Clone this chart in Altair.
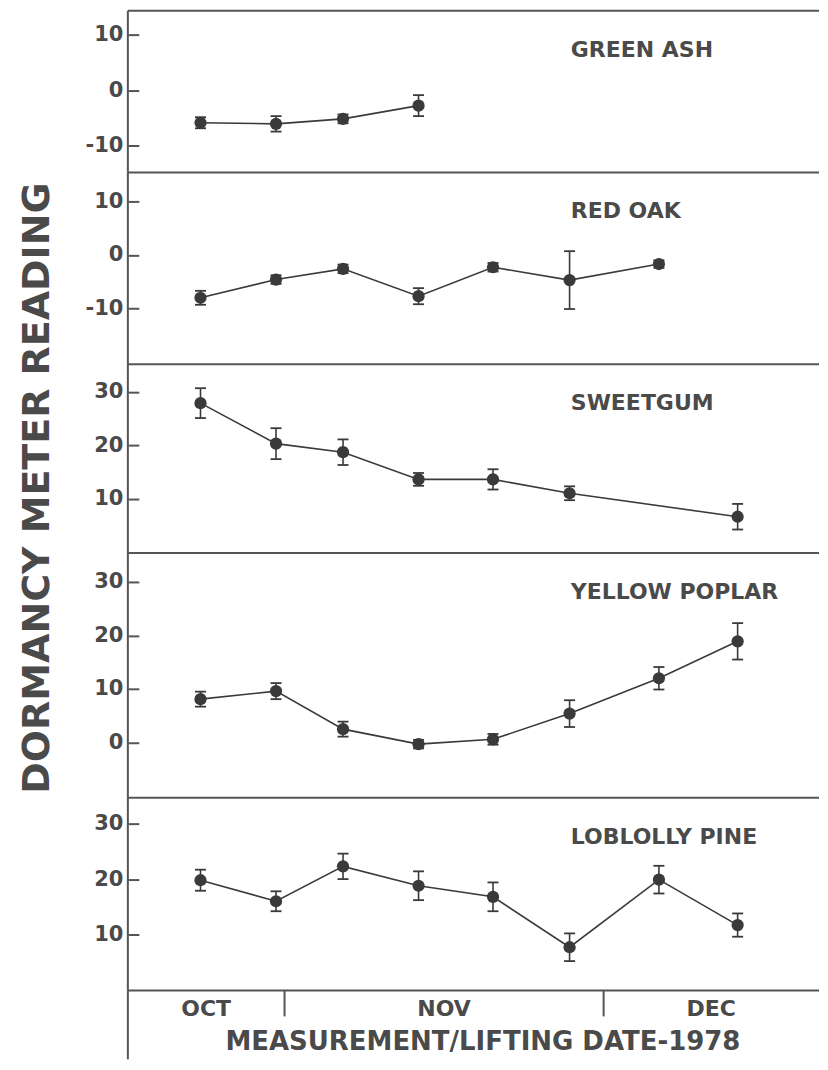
import altair as alt
import pandas as pd

days = [23.1, 30.2, 36.5, 43.6, 50.6, 57.8, 66.2, 73.6]

species = ["GREEN ASH", "RED OAK", "SWEETGUM", "YELLOW POPLAR", "LOBLOLLY PINE"]

green_ash_idx = [0, 1, 2, 3]
green_ash_mean = [-5.9, -6.1, -5.2, -2.8]
green_ash_err = [1.0, 1.4, 0.8, 1.9]

red_oak_idx = [0, 1, 2, 3, 4, 5, 6]
red_oak_mean = [-8.0, -4.6, -2.6, -7.7, -2.3, -4.7, -1.7]
red_oak_err = [1.3, 0.8, 0.8, 1.5, 0.8, 5.4, 0.7]

sweetgum_idx = [0, 1, 2, 3, 4, 5, 7]
sweetgum_mean = [27.9, 20.3, 18.7, 13.6, 13.6, 11.0, 6.6]
sweetgum_err = [2.8, 2.9, 2.4, 1.2, 1.9, 1.3, 2.4]

yellow_poplar_idx = [0, 1, 2, 3, 4, 5, 6, 7]
yellow_poplar_mean = [8.1, 9.6, 2.5, -0.3, 0.6, 5.4, 12.0, 18.9]
yellow_poplar_err = [1.4, 1.5, 1.4, 0.8, 1.0, 2.5, 2.1, 3.4]

loblolly_idx = [0, 1, 2, 3, 4, 5, 6, 7]
loblolly_mean = [19.8, 16.0, 22.3, 18.8, 16.8, 7.7, 19.9, 11.7]
loblolly_err = [1.9, 1.8, 2.3, 2.6, 2.6, 2.5, 2.5, 2.1]

y_domains = [[-14.9, 14.4], [-20.4, 15.4], [-0.2, 35.2], [-10.3, 35.4], [-0.1, 34.7]]
y_ticks = [[-10, 0, 10], [-10, 0, 10], [10, 20, 30], [0, 10, 20, 30], [10, 20, 30]]

months = ["OCT", "NOV", "DEC"]
month_start = [0, 31, 61]
month_end = [31, 61, 92]
x_domain = [16.27, 81.25]

x_title = "MEASUREMENT/LIFTING DATE-1978"
y_title = "DORMANCY METER READING"

# ---- layout / style ----
W = 692
heights = [162, 192, 189, 245, 193]
BOTTOM_H = 69
INK = "#3a3a3a"
FRAME = "#555555"
TEXT = "#4a4a4a"
FONT = "DejaVu Sans"

xs = alt.Scale(domain=x_domain, nice=False, zero=False)


def frame_layers(h):
    one = pd.DataFrame({"k": [0]})
    top = alt.Chart(one).mark_rule(color=FRAME, strokeWidth=2).encode(
        x=alt.value(0), x2=alt.value(W), y=alt.value(0))
    left = alt.Chart(one).mark_rule(color=FRAME, strokeWidth=2).encode(
        x=alt.value(0), y=alt.value(0), y2=alt.value(h))
    return [top, left]


def panel(k, idx, mean, err, extra=None):
    df = pd.DataFrame({"day": [days[i] for i in idx], "mean": mean, "err": err})
    df["lo"] = df["mean"] - df["err"]
    df["hi"] = df["mean"] + df["err"]
    ys = alt.Scale(domain=y_domains[k], nice=False, zero=False)
    ax = alt.Axis(values=y_ticks[k], title=None, domain=False, grid=False,
                  offset=-11, tickSize=11, tickWidth=2, tickColor=FRAME,
                  labelExpr="datum.value",
                  labelFont=FONT, labelFontWeight="bold", labelFontSize=21,
                  labelColor=TEXT, labelPadding=5)
    X = alt.X("day:Q", scale=xs, axis=None)
    base = alt.Chart(df)
    line = base.mark_line(color=INK, strokeWidth=1.6).encode(
        x=X, y=alt.Y("mean:Q", scale=ys, axis=ax))
    bars = base.mark_rule(color=INK, strokeWidth=1.6).encode(
        x=X, y=alt.Y("lo:Q", scale=ys, axis=ax), y2="hi:Q")
    cap_lo = base.mark_tick(orient="horizontal", size=11, thickness=1.8,
                            color=INK, opacity=1).encode(
        x=X, y=alt.Y("lo:Q", scale=ys, axis=ax))
    cap_hi = base.mark_tick(orient="horizontal", size=11, thickness=1.8,
                            color=INK, opacity=1).encode(
        x=X, y=alt.Y("hi:Q", scale=ys, axis=ax))
    pts = base.mark_point(filled=True, shape="circle", size=150, color=INK,
                          opacity=1).encode(
        x=X, y=alt.Y("mean:Q", scale=ys, axis=ax))
    label = alt.Chart(pd.DataFrame({"t": [species[k]]})).mark_text(
        align="left", baseline="middle", font=FONT, fontWeight="bold",
        fontSize=22, color=TEXT).encode(
        text="t:N", x=alt.value(443.5), y=alt.value(39))
    layers = frame_layers(heights[k]) + [bars, cap_lo, cap_hi, line, pts, label]
    if extra is not None:
        layers.append(extra)
    return alt.layer(*layers).properties(width=W, height=heights[k])


ytitle = alt.Chart(pd.DataFrame({"t": [y_title]})).mark_text(
    angle=270, align="center", baseline="middle", font=FONT, fontWeight="bold",
    fontSize=38, color=TEXT).encode(
    text="t:N", x=alt.value(-90), y=alt.value(124))

p1 = panel(0, green_ash_idx, green_ash_mean, green_ash_err)
p2 = panel(1, red_oak_idx, red_oak_mean, red_oak_err)
p3 = panel(2, sweetgum_idx, sweetgum_mean, sweetgum_err, extra=ytitle)
p4 = panel(3, yellow_poplar_idx, yellow_poplar_mean, yellow_poplar_err)
p5 = panel(4, loblolly_idx, loblolly_mean, loblolly_err)

# ---- bottom date axis ----
mdf = pd.DataFrame({"month": months, "start": month_start, "end": month_end})
mdf["mid"] = (mdf["start"].clip(lower=x_domain[0]) + mdf["end"].clip(upper=x_domain[1])) / 2
bounds = mdf[(mdf["start"] > x_domain[0]) & (mdf["start"] < x_domain[1])]

mticks = alt.Chart(bounds).mark_rule(color=FRAME, strokeWidth=2).encode(
    x=alt.X("start:Q", scale=xs, axis=None), y=alt.value(0), y2=alt.value(26))
mlabels = alt.Chart(mdf).mark_text(
    align="center", baseline="middle", font=FONT, fontWeight="bold",
    fontSize=22, color=TEXT).encode(
    x=alt.X("mid:Q", scale=xs, axis=None), y=alt.value(19), text="month:N")
xt = alt.Chart(pd.DataFrame({"t": [x_title]})).mark_text(
    align="center", baseline="middle", font=FONT, fontWeight="bold",
    fontSize=26, color=TEXT).encode(
    text="t:N", x=alt.value(355.5), y=alt.value(52))
bottom = alt.layer(*(frame_layers(BOTTOM_H) + [mticks, mlabels, xt])).properties(
    width=W, height=BOTTOM_H)

chart = alt.vconcat(p1, p2, p3, p4, p5, bottom, spacing=0, bounds="flush").properties(
    padding={"left": 10, "top": 1, "right": 0, "bottom": 0},
    background="white",
).configure_view(stroke=None)

chart.save("out.html", embed_options={"renderer": "svg", "actions": False})
